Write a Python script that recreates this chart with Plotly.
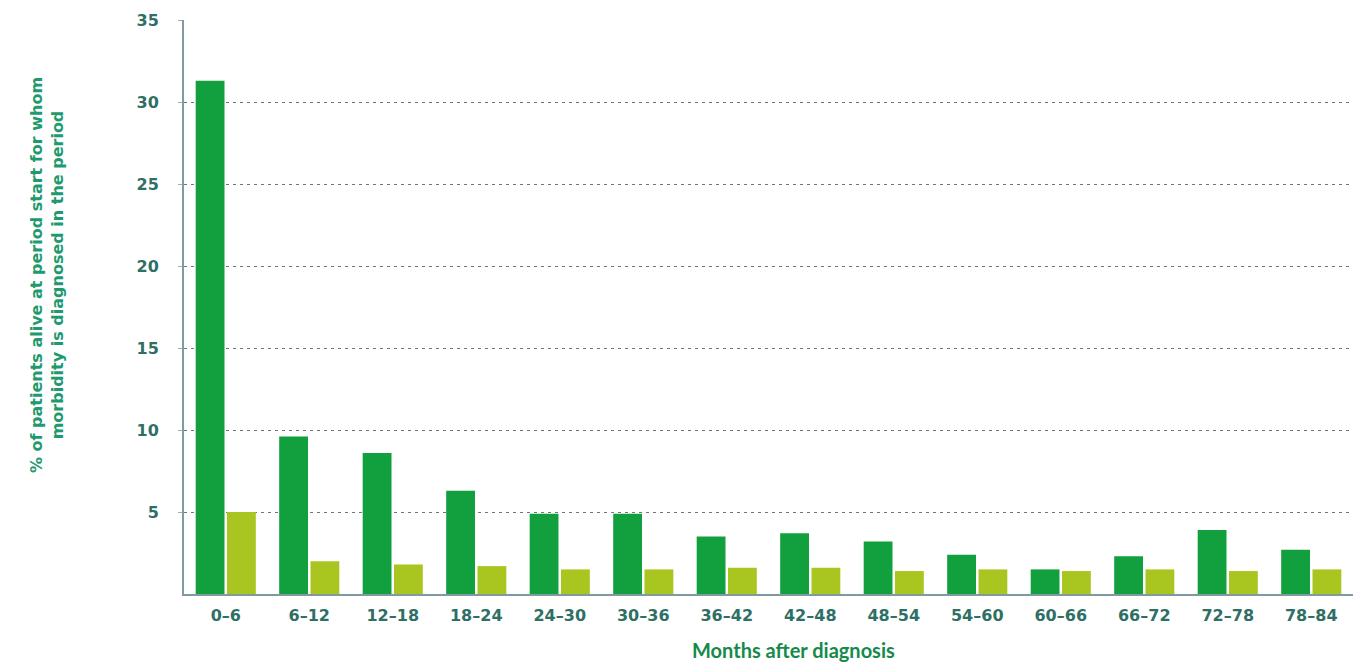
import plotly.graph_objects as go

categories = ["0–6", "6–12", "12–18", "18–24", "24–30", "30–36", "36–42",
              "42–48", "48–54", "54–60", "60–66", "66–72", "72–78", "78–84"]
series_a = [31.3, 9.6, 8.6, 6.3, 4.9, 4.9, 3.5, 3.7, 3.2, 2.4, 1.5, 2.3, 3.9, 2.7]
series_b = [5.0, 2.0, 1.8, 1.7, 1.5, 1.5, 1.6, 1.6, 1.4, 1.5, 1.4, 1.5, 1.4, 1.5]
y_ticks = [5, 10, 15, 20, 25, 30, 35]

fig = go.Figure()
fig.add_trace(go.Bar(x=categories, y=series_a, marker_color="#12a03e",
                     marker_line_width=0, showlegend=False))
fig.add_trace(go.Bar(x=categories, y=series_b, marker_color="#a9c620",
                     marker_line_width=0, showlegend=False))

tick_font = dict(size=16, family="DejaVu Sans", color="#2f6f66", weight="bold")

fig.update_layout(
    width=1361, height=654,
    margin=dict(l=176, r=16, t=12, b=68, autoexpand=False),
    paper_bgcolor="white", plot_bgcolor="white",
    barmode="group", bargap=0.25, bargroupgap=0.08,
    font=dict(family="DejaVu Sans, sans-serif", color="#2f6f66"),
    xaxis=dict(
        automargin=False,
        showline=True, linecolor="#7f9aa0", linewidth=2,
        tickfont=tick_font,
        ticks="", ticklabelstandoff=6,
    ),
    yaxis=dict(
        automargin=False,
        range=[0, 35], tickvals=y_ticks,
        showline=True, linecolor="#7f9aa0", linewidth=2,
        showgrid=True, gridcolor="#6f7878", gridwidth=1, griddash="3px,4px",
        zeroline=False,
        ticks="outside", ticklen=4, tickcolor="#9ab0b0",
        tickfont=tick_font,
        ticklabelstandoff=16,
    ),
    annotations=[
        dict(text="Months after diagnosis", xref="paper", yref="paper",
             x=0.521, y=-0.097, xanchor="center", yanchor="middle", showarrow=False,
             font=dict(size=20, color="#168a4a", family="Lato, sans-serif", weight="bold")),
        dict(text="% of patients alive at period start for whom<br>morbidity is diagnosed in the period",
             xref="paper", yref="paper", x=-0.117, y=0.556, xanchor="center", yanchor="middle",
             textangle=-90, showarrow=False, align="center",
             font=dict(size=16, color="#1f9a6e", family="DejaVu Sans, sans-serif", weight="bold")),
    ],
)

fig.write_html("out.html")
